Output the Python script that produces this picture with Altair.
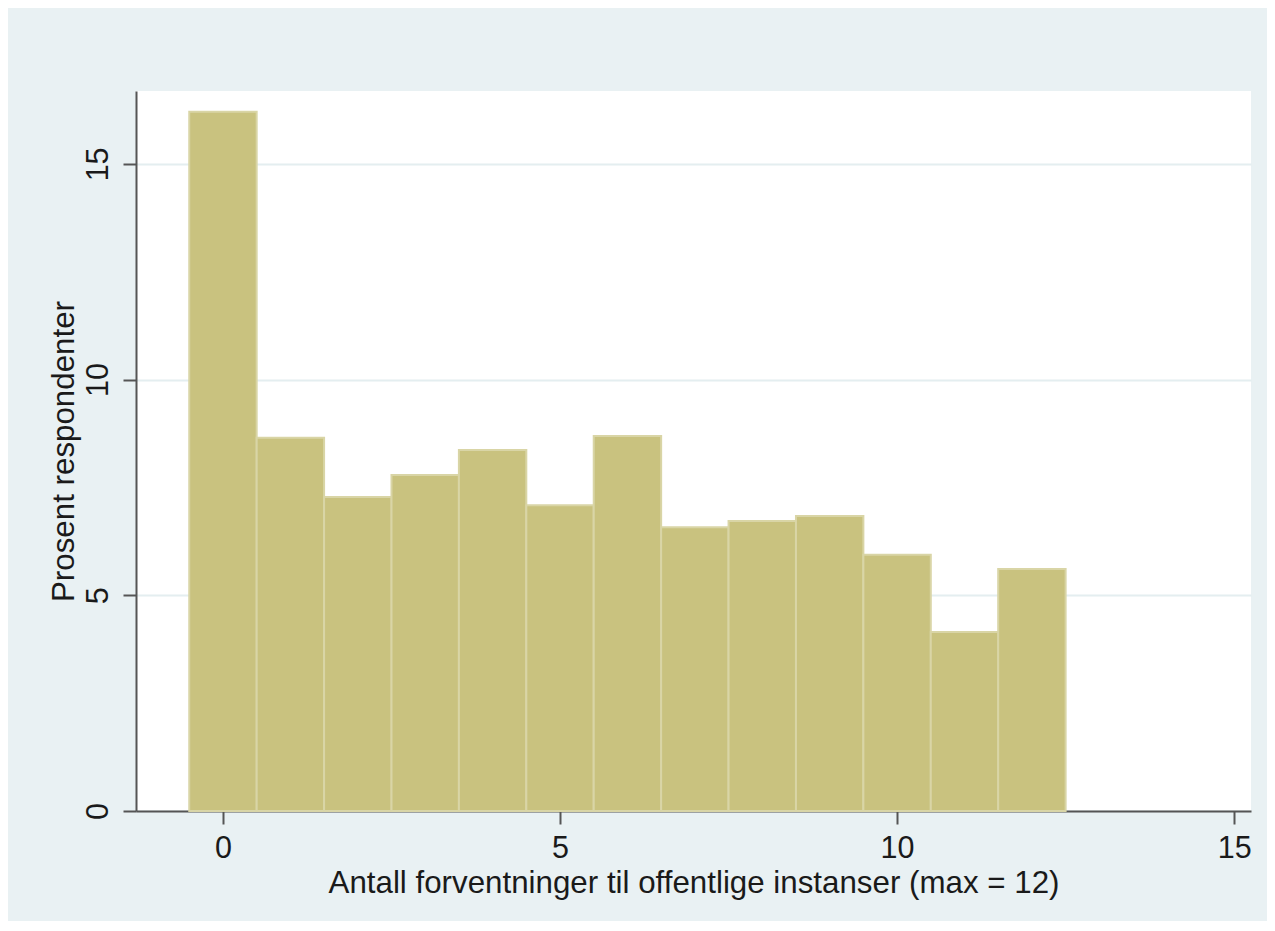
import altair as alt
import pandas as pd

antall = list(range(13))
prosent = [16.21, 8.65, 7.28, 7.79, 8.37, 7.09, 8.69, 6.58, 6.72, 6.84, 5.94, 4.15, 5.61]
tick_values = [0, 5, 10, 15]

df = pd.DataFrame({"antall": antall, "prosent": prosent})

FONT = "Liberation Sans"
TEXT = "#1a1a1a"
AXIS = "#555555"

chart = alt.Chart(df).transform_calculate(
    x0="datum.antall - 0.5", x1="datum.antall + 0.5"
).mark_rect(fill="#c9c27f", stroke="#d9d5a6", strokeWidth=2).encode(
    x=alt.X("x0:Q",
            scale=alt.Scale(domain=[-1.29, 15.25], nice=False, zero=False),
            axis=alt.Axis(values=tick_values, grid=False,
                          title="Antall forventninger til offentlige instanser (max = 12)",
                          labelFontSize=30.5, titleFontSize=31.3, labelPadding=9,
                          titlePadding=4, tickSize=13, format="d")),
    x2="x1:Q",
    y=alt.Y("prosent:Q",
            scale=alt.Scale(domain=[0, 16.69], nice=False),
            axis=alt.Axis(values=tick_values, grid=True, gridColor="#e4eef0", gridWidth=2,
                          title="Prosent respondenter",
                          labelAngle=270, labelAlign="center", labelBaseline="bottom",
                          labelFontSize=30.5, titleFontSize=31.3, labelPadding=10,
                          titlePadding=3, tickSize=13, format="d")),
    y2=alt.datum(0),
).properties(
    width=1115, height=720,
    padding={"left": 128, "top": 83, "right": 16, "bottom": 110},
    autosize=alt.AutoSizeParams(type="none"),
    background="#e9f1f3",
).configure_view(
    fill="white", strokeWidth=0
).configure_axis(
    labelFont=FONT, titleFont=FONT, labelColor=TEXT, titleColor=TEXT,
    titleFontWeight="normal", domainColor=AXIS, tickColor=AXIS,
    domainWidth=2, tickWidth=2,
)

chart.save("out.html", embed_options={"renderer": "svg", "actions": False})
